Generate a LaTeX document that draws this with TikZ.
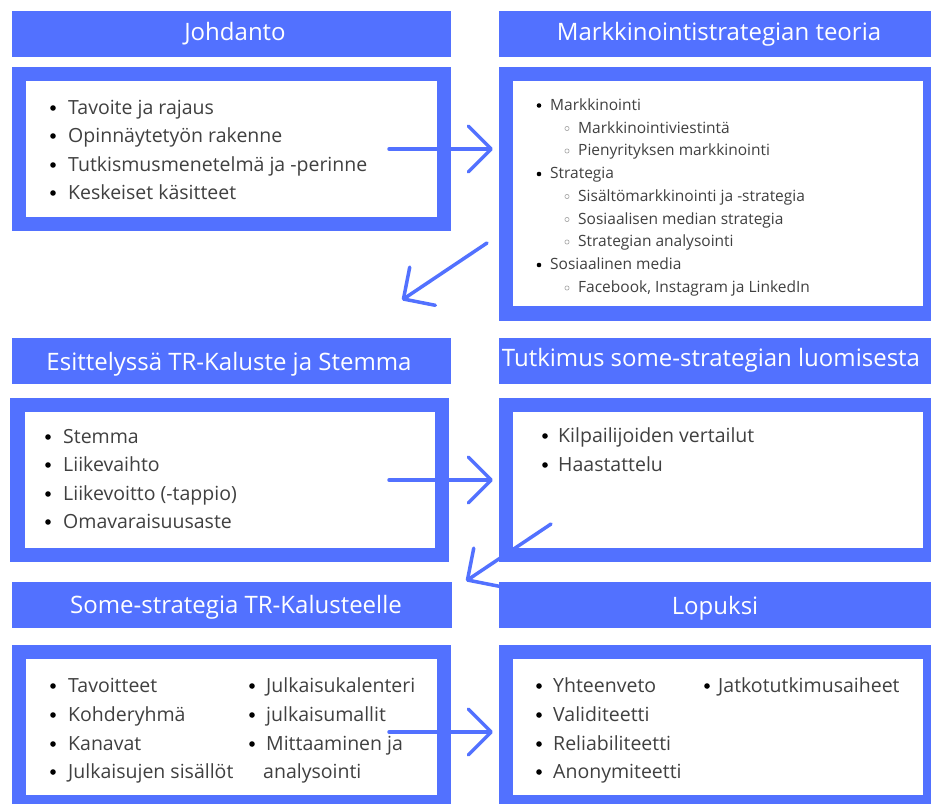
\documentclass[tikz,border=0pt]{standalone}
\usepackage{fontspec}
\setmainfont{Open Sans}
\usetikzlibrary{arrows.meta}
\definecolor{cblue}{RGB}{82,113,255}
\definecolor{ctext}{RGB}{64,64,64}
\definecolor{chollow}{RGB}{170,170,170}
\begin{document}
\begin{tikzpicture}[x=1pt,y=-1pt,
  bluebox/.style={fill=cblue},
  whitebox/.style={fill=white},
  head/.style={anchor=base, text=white, font=\fontsize{24}{28}\selectfont, inner sep=0pt},
  item/.style={anchor=base west, text=ctext, font=\fontsize{19.5}{23}\selectfont, inner sep=0pt},
  smallitem/.style={anchor=base west, text=ctext, font=\fontsize{15.5}{18}\selectfont, inner sep=0pt},
  flow/.style={draw=cblue, line width=3.5pt, line cap=round, line join=round, -{Straight Barb[length=23pt,width=46pt,round]}},
]
\useasboundingbox (0,0) rectangle (931,803);
\clip (0,0) rectangle (931,803);
\fill[white] (0,0) rectangle (931,803);

% ---------- row 1 ----------
\fill[bluebox] (12,11) rectangle (451,57);
\fill[bluebox] (499,11) rectangle (945,57);
\node[head] (h1) at (235,40.7) {Johdanto};
\node[head] (h2) at (719,40.7) {Markkinointistrategian teoria};

\fill[bluebox] (12,67) rectangle (451,231);
\fill[whitebox] (26,81) rectangle (437,217);
\fill[bluebox] (499,67) rectangle (945,321);
\fill[whitebox] (513,81) rectangle (923,306);

\foreach \y/\t [count=\i] in {114/Tavoite ja rajaus, 142/Opinnäytetyön rakenne, 171/Tutkismusmenetelmä ja -perinne, 199/Keskeiset käsitteet}{
  \fill[black] (53,\y-6) circle (2.8pt);
  \node[item] (ja\i) at (68,\y) {\t};
}

\foreach \y/\l/\t [count=\i] in {110/1/Markkinointi, 133/2/Markkinointiviestintä, 155.5/2/Pienyrityksen markkinointi, 178.5/1/Strategia, 201/2/Sisältömarkkinointi ja -strategia, 224/2/Sosiaalisen median strategia, 246.5/2/Strategian analysointi, 269.5/1/Sosiaalinen media, 292.5/2/{Facebook, Instagram ja LinkedIn}}{
  \ifnum\l=1
    \fill[black] (539,\y-4.5) circle (2.3pt);
    \node[smallitem] (mk\i) at (550,\y) {\t};
  \else
    \draw[chollow, line width=0.7pt] (567,\y-4.5) circle (2.1pt);
    \node[smallitem] (mk\i) at (578,\y) {\t};
  \fi
}

% ---------- row 2 ----------
\fill[bluebox] (12,338) rectangle (451,384);
\fill[bluebox] (499,338) rectangle (945,384);
\node[head] (h3) at (229,370.5) {Esittelyssä TR-Kaluste ja Stemma};
\node[head] (h4) at (711,366) {Tutkimus some-strategian luomisesta};

\fill[bluebox] (10,398) rectangle (449,562);
\fill[whitebox] (25,412) rectangle (435,548);
\fill[bluebox] (499,398) rectangle (945,562);
\fill[whitebox] (513,412) rectangle (923,548);

\foreach \y/\t [count=\i] in {443/Stemma, 471/Liikevaihto, 500/Liikevoitto (-tappio), 528/Omavaraisuusaste}{
  \fill[black] (48,\y-6) circle (2.8pt);
  \node[item] (es\i) at (63,\y) {\t};
}
\foreach \y/\t [count=\i] in {442/Kilpailijoiden vertailut, 471/Haastattelu}{
  \fill[black] (545,\y-6) circle (2.8pt);
  \node[item] (tu\i) at (558,\y) {\t};
}

% ---------- row 3 ----------
\fill[bluebox] (12,582) rectangle (452,628);
\fill[bluebox] (499,582) rectangle (945,628);
\node[head] (h5) at (236,613.3) {Some-strategia TR-Kalusteelle};
\node[head] (h6) at (715,614) {Lopuksi};

\fill[bluebox] (12,645) rectangle (451,815);
\fill[whitebox] (26,659) rectangle (437,795);
\fill[bluebox] (499,645) rectangle (945,815);
\fill[whitebox] (513,659) rectangle (923,795);

\foreach \y/\t [count=\i] in {692/Tavoitteet, 721/Kohderyhmä, 750/Kanavat, 778/Julkaisujen sisällöt}{
  \fill[black] (53,\y-6) circle (2.8pt);
  \node[item] (so\i) at (68,\y) {\t};
}
\foreach \y/\t [count=\i] in {692/Julkaisukalenteri, 721/julkaisumallit, 750/Mittaaminen ja}{
  \fill[black] (252,\y-6) circle (2.8pt);
  \node[item] (sb\i) at (266,\y) {\t};
}
\node[item] (sb4) at (263,778) {analysointi};

\foreach \y/\t [count=\i] in {692/Yhteenveto, 721/Validiteetti, 750/Reliabiliteetti, 778/Anonymiteetti}{
  \fill[black] (539,\y-6) circle (2.8pt);
  \node[item] (lo\i) at (553,\y) {\t};
}
\fill[black] (707,686) circle (2.8pt);
\node[item] (lb1) at (718,692) {Jatkotutkimusaiheet};

% ---------- arrows ----------
\coordinate (a1s) at (389,149);
\coordinate (a1e) at (493,149);
\coordinate (a2s) at (487,243);
\coordinate (a2e) at (402,300);
\coordinate (a3s) at (389,480);
\coordinate (a3e) at (493,480);
\coordinate (a4s) at (551,524);
\coordinate (a4e) at (466,581);
\coordinate (a5s) at (389,732);
\coordinate (a5e) at (493,732);
\draw[flow] (a1s) -- (a1e);
\draw[flow] (a2s) -- (a2e);
\draw[flow] (a3s) -- (a3e);
\draw[flow] (a4s) -- (a4e);
\draw[flow] (a5s) -- (a5e);
\end{tikzpicture}
\end{document}
